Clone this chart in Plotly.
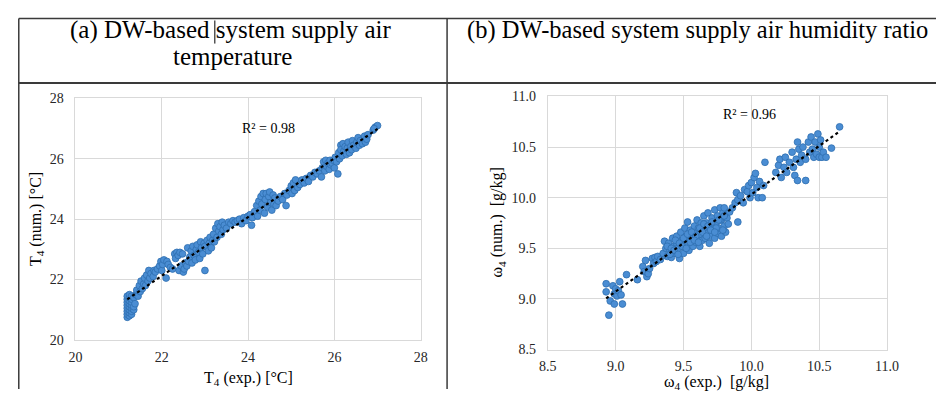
import numpy as np
import plotly.graph_objects as go

# ---------------- data ----------------
t_exp = [
    21.2, 21.2, 21.2, 21.2, 21.2, 21.2, 21.2, 21.2,
    21.25, 21.25, 21.25, 21.25, 21.25, 21.25, 21.25, 21.25,
    21.3, 21.3, 21.3, 21.3, 21.3, 21.3, 21.3,
    21.35, 21.35, 21.35, 21.38,
    21.4, 21.42, 21.45, 21.48, 21.5, 21.52, 21.55, 21.58, 21.6, 21.62,
    21.65, 21.68, 21.7, 21.72, 21.75, 21.8, 21.82, 21.85, 21.9, 21.95,
    21.98, 22.0, 22.02, 22.05, 22.1, 22.12, 22.15,
    22.2, 22.25, 22.3, 22.32, 22.35, 22.38, 22.4, 22.42, 22.45, 22.48,
    22.5, 22.52, 22.55, 22.58, 22.6, 22.62, 22.65, 22.68, 22.7, 22.72,
    22.75, 22.78, 22.8, 22.82, 22.85, 22.88, 22.9, 22.92, 22.95, 22.98,
    23.0, 23.0, 23.05, 23.08, 23.1, 23.12, 23.15, 23.18,
    23.2, 23.22, 23.25, 23.28, 23.3, 23.32, 23.35, 23.38, 23.4, 23.42,
    23.45, 23.5, 23.55, 23.6, 23.65, 23.7, 23.75, 23.8, 23.85, 23.9,
    23.95, 24.0, 24.05, 24.08, 24.1,
    24.15, 24.2, 24.22, 24.25, 24.28, 24.3, 24.32, 24.35, 24.38, 24.4,
    24.42, 24.45, 24.48, 24.5, 24.52, 24.55, 24.58, 24.6, 24.62, 24.65,
    24.7, 24.75, 24.8, 24.85, 24.88, 24.9, 24.95, 25.0, 25.02, 25.05,
    25.08, 25.1, 25.15, 25.2, 25.25, 25.3,
    25.35, 25.4, 25.45, 25.5, 25.55, 25.6, 25.65, 25.7, 25.72, 25.75,
    25.78, 25.8, 25.82, 25.85, 25.88, 25.9, 25.92, 25.95, 25.98, 26.0,
    26.02, 26.05, 26.08, 26.1, 26.12, 26.15, 26.15, 26.18, 26.2, 26.22,
    26.25, 26.28, 26.3, 26.32, 26.35, 26.38, 26.4, 26.42, 26.45, 26.5,
    26.52, 26.55, 26.58, 26.6, 26.65, 26.7, 26.72, 26.75,
    26.78, 26.9, 26.95, 27.0, 26.92,
]
t_num = [
    20.75, 20.85, 20.95, 21.05, 21.15, 21.25, 21.35, 21.45,
    20.8, 20.9, 21.0, 21.1, 21.2, 21.3, 21.4, 21.5,
    20.85, 20.95, 21.05, 21.15, 21.25, 21.35, 21.45,
    21.0, 21.1, 21.4, 21.2,
    21.5, 21.65, 21.45, 21.8, 21.6, 21.95, 21.7, 21.85, 22.05, 21.8,
    22.15, 21.95, 22.3, 22.05, 22.2, 22.1, 22.3, 22.25, 22.35, 22.45,
    22.6, 22.3, 22.5, 22.65, 22.05, 22.6, 22.5,
    22.4, 22.35, 22.85, 22.7, 22.9, 22.8, 22.3, 22.9, 22.45, 22.85,
    22.25, 22.35, 22.55, 22.45, 23.05, 22.6, 22.75, 22.95, 22.55, 23.1,
    22.8, 22.65, 23.0, 23.15, 22.9, 22.7, 23.25, 23.05, 22.85, 23.2,
    22.3, 23.1, 23.3, 22.95, 23.2, 23.4, 23.05, 23.3,
    23.5, 23.25, 23.7, 23.4, 23.85, 23.6, 23.75, 23.5, 23.9, 23.65,
    23.8, 23.7, 23.9, 23.85, 23.95, 23.9, 23.95, 24.0, 23.85, 24.05,
    23.95, 24.1, 24.15, 23.8, 24.05,
    24.25, 24.45, 24.1, 24.6, 24.3, 24.75, 24.5, 24.85, 24.2, 24.65,
    24.85, 24.4, 24.75, 24.9, 24.55, 24.3, 24.8, 24.5, 24.7, 24.45,
    24.6, 24.75, 24.65, 24.85, 24.45, 24.8, 24.95, 25.1, 24.85, 25.2,
    24.95, 25.3, 25.05, 25.15, 25.3, 25.2,
    25.35, 25.25, 25.45, 25.4, 25.55, 25.5, 25.6, 25.4, 25.7, 25.9,
    25.6, 25.95, 25.75, 25.85, 25.65, 25.95, 25.8, 25.85, 25.95, 25.7,
    26.05, 25.9, 25.5, 26.2, 26.0, 26.45, 26.3, 26.1, 26.5, 26.25,
    26.4, 26.15, 26.35, 26.55, 26.2, 26.4, 26.3, 26.6, 26.45, 26.35,
    26.55, 26.7, 26.45, 26.6, 26.5, 26.75, 26.55, 26.65,
    26.8, 26.95, 27.05, 27.1, 27.0,
]

w_exp = [
    8.93, 8.93, 8.95, 8.96, 8.98, 8.99, 8.99, 9.0, 9.01, 9.02, 9.03, 9.04, 9.05, 9.08,
    9.16, 9.2, 9.21, 9.22, 9.23, 9.24, 9.25, 9.27, 9.28, 9.29, 9.3, 9.31, 9.33,
    9.35, 9.36, 9.37, 9.38, 9.39, 9.4, 9.41, 9.42, 9.43, 9.44,
    9.45, 9.45, 9.46, 9.47, 9.48, 9.49, 9.5, 9.5, 9.51, 9.52,
    9.53, 9.53, 9.54, 9.55, 9.56, 9.57, 9.58, 9.58, 9.59, 9.6,
    9.6, 9.61, 9.62, 9.62, 9.63, 9.64, 9.65, 9.65, 9.66, 9.67,
    9.68, 9.68, 9.69, 9.7, 9.7, 9.71, 9.72, 9.73, 9.73, 9.74,
    9.75, 9.75, 9.76, 9.77, 9.78, 9.78, 9.79, 9.8, 9.8, 9.81,
    9.82, 9.83,
    9.38, 9.41, 9.44, 9.47, 9.5, 9.53, 9.56, 9.59, 9.62, 9.65,
    9.68, 9.71, 9.74, 9.77, 9.8, 9.4, 9.43, 9.46, 9.49, 9.52,
    9.55, 9.58, 9.61, 9.64, 9.67, 9.7, 9.73, 9.76, 9.79, 9.84,
    9.86, 9.88, 9.89, 9.9, 9.9, 9.92, 9.94, 9.95, 9.97, 9.98,
    9.99, 10.0, 10.01, 10.02, 10.03, 10.04, 10.05, 10.06, 10.08, 10.09, 10.1,
    10.18, 10.2, 10.21, 10.22, 10.24, 10.25, 10.26, 10.28, 10.3, 10.31,
    10.32, 10.33, 10.34, 10.34, 10.35, 10.36, 10.37, 10.38, 10.4, 10.4,
    10.42, 10.43, 10.44, 10.45, 10.46, 10.47, 10.48, 10.49, 10.5, 10.5,
    10.51, 10.52, 10.53, 10.55, 10.59, 10.65,
]
w_num = [
    9.15, 9.07, 8.84, 8.98, 9.13, 9.05, 8.95, 9.1, 9.03, 9.08, 9.17, 9.04, 8.95, 9.24,
    9.19, 9.32, 9.27, 9.38, 9.22, 9.25, 9.3, 9.4, 9.35, 9.41, 9.37, 9.42, 9.39,
    9.45, 9.57, 9.5, 9.42, 9.55, 9.48, 9.41, 9.6, 9.52, 9.45,
    9.62, 9.55, 9.5, 9.4, 9.66, 9.58, 9.52, 9.45, 9.7, 9.62,
    9.76, 9.55, 9.48, 9.68, 9.6, 9.52, 9.72, 9.65, 9.56, 9.78,
    9.6, 9.7, 9.52, 9.64, 9.75, 9.58, 9.82, 9.68, 9.6, 9.75,
    9.65, 9.85, 9.55, 9.72, 9.62, 9.8, 9.68, 9.88, 9.6, 9.75,
    9.65, 9.82, 9.7, 9.9, 9.62, 9.78, 9.85, 9.72, 9.9, 9.66,
    9.8, 9.74,
    9.52, 9.5, 9.58, 9.55, 9.6, 9.64, 9.66, 9.62, 9.7, 9.74,
    9.72, 9.76, 9.7, 9.78, 9.82, 9.44, 9.48, 9.44, 9.52, 9.5,
    9.56, 9.58, 9.56, 9.66, 9.62, 9.68, 9.66, 9.78, 9.68, 9.86,
    9.9, 9.95, 10.05, 9.76, 9.98, 10.02, 9.95, 10.08, 10.06, 10.12,
    10.0, 10.15, 10.05, 10.2, 10.24, 10.1, 10.0, 10.16, 10.0, 10.12, 10.35,
    10.25, 10.32, 10.38, 10.2, 10.3, 10.4, 10.25, 10.35, 10.45, 10.3,
    10.22, 10.38, 10.55, 10.17, 10.48, 10.35, 10.42, 10.5, 10.17, 10.38,
    10.55, 10.45, 10.6, 10.48, 10.4, 10.55, 10.43, 10.63, 10.5, 10.4,
    10.57, 10.4, 10.45, 10.4, 10.49, 10.7,
]

r2_labels = ["R² = 0.98", "R² = 0.96"]
t_ticks = [20, 22, 24, 26, 28]
w_ticks = [8.5, 9.0, 9.5, 10.0, 10.5, 11.0]

# ---------------- layout helpers ----------------
W, H = 948, 397
def px(x):
    return x / W
def py(y):
    return 1 - y / H

SERIF = "Liberation Serif, Times New Roman, serif"
GRID = "#d9d9d9"
TXT = "#262626"

marker = dict(size=6.8, color="#4A8DD3", line=dict(color="#2F6EB0", width=0.8))

fig = go.Figure()

def add_panel(xs, ys, xa, ya):
    fig.add_trace(go.Scatter(x=xs, y=ys, mode="markers", marker=marker,
                             xaxis=xa, yaxis=ya, showlegend=False, hoverinfo="skip"))
    k, b = np.polyfit(xs, ys, 1)
    xl = np.array([min(xs), max(xs)])
    fig.add_trace(go.Scatter(x=xl, y=k * xl + b, mode="lines",
                             line=dict(color="black", width=2.2, dash="dot"),
                             xaxis=xa, yaxis=ya, showlegend=False, hoverinfo="skip"))

add_panel(t_exp, t_num, "x", "y")
add_panel(w_exp, w_num, "x2", "y2")

def axis(domain, rng, ticks, anchor, fmt, tl):
    return dict(domain=domain, range=rng, tickvals=ticks, tickformat=fmt, anchor=anchor,
                showgrid=True, gridcolor=GRID, gridwidth=1, zeroline=False,
                showline=True, linecolor=GRID, linewidth=1, mirror=True,
                ticks="outside", ticklen=tl, tickcolor="rgba(0,0,0,0)",
                tickfont=dict(family=SERIF, size=14, color=TXT), fixedrange=True)

fig.update_layout(
    width=W, height=H, margin=dict(l=0, r=0, t=0, b=0),
    paper_bgcolor="white", plot_bgcolor="white",
    xaxis=axis([px(68), px(421)], [20, 28], t_ticks, "y", "d", 4),
    yaxis=axis([py(346), py(95)], [20, 28], t_ticks, "x", "d", 8),
    xaxis2=axis([px(551), px(898)], [8.5, 11], w_ticks, "y2", ".1f", 4),
    yaxis2=axis([py(356), py(93)], [8.5, 11], w_ticks, "x2", ".1f", 8),
)

def ann(text, x, y, size, angle=0, xanchor="center"):
    fig.add_annotation(text=text, x=px(x), y=py(y), xref="paper", yref="paper",
                       showarrow=False, textangle=angle, xanchor=xanchor, yanchor="middle",
                       font=dict(family=SERIF, size=size, color="black"))

# header cells
ann("(a) DW-based system supply air", 227, 24, 25)
ann("temperature", 229, 51, 25)
ann("(b) DW-based system supply air humidity ratio", 704, 24, 24.5)

# axis titles
ann("T<sub>4</sub> (exp.) [°C]", 245, 386, 16)
ann("T<sub>4</sub> (num.) [°C]", 28, 220, 16, angle=-90)
ann("ω<sub>4</sub> (exp.)  [g/kg]", 724, 390, 16)
ann("ω<sub>4</sub> (num.)  [g/kg]", 500, 224, 16, angle=-90)

# R² labels
ann(r2_labels[0], 265, 126, 14)
ann(r2_labels[1], 757, 112, 14)

# table borders
LC = "#3a3a3a"
def line(x0, y0, x1, y1, w=1.5, c=LC):
    fig.add_shape(type="line", xref="paper", yref="paper",
                  x0=px(x0), y0=py(y0), x1=px(x1), y1=py(y1), line=dict(color=c, width=w))

line(10, 12, 948, 12)
line(10, 79, 948, 79, w=2)
line(10, 12, 10, 397)
line(448, 12, 448, 397)
line(210.5, 14, 210.5, 38, w=1, c="black")

fig.write_html("out.html", config={"displayModeBar": False},
               post_script="document.body.style.margin='0';document.body.style.overflow='hidden';")
